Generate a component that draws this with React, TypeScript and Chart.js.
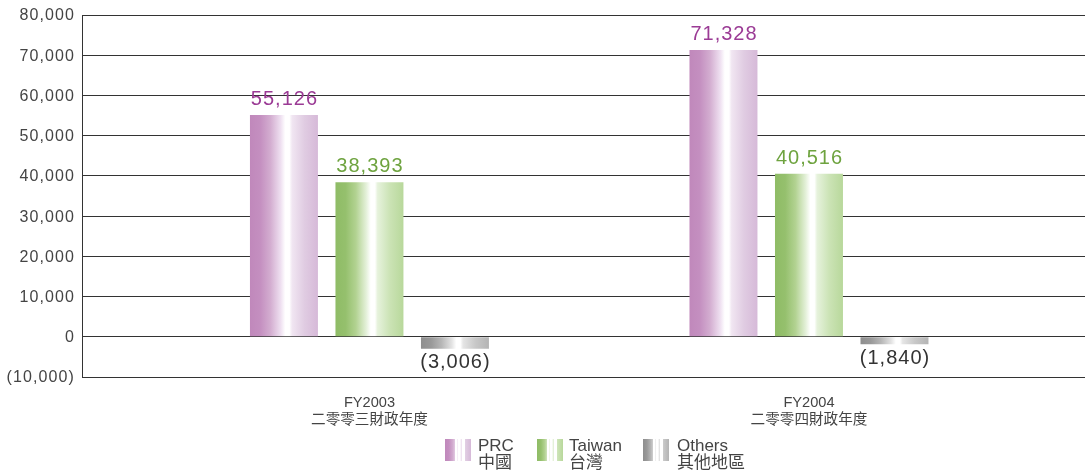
import React, { useEffect, useRef } from 'react';
import { Chart, registerables } from 'chart.js';

Chart.register(...registerables);

// ---- data ----
const categories: string[][] = [
  ['FY2003', '二零零三財政年度'],
  ['FY2004', '二零零四財政年度'],
];
const seriesNames: string[][] = [
  ['PRC', '中國'],
  ['Taiwan', '台灣'],
  ['Others', '其他地區'],
];
const prcValues = [55126, 71328];
const taiwanValues = [38393, 40516];
const othersValues = [-3006, -1840];
const yMin = -10000;
const yMax = 80000;
const yStep = 10000;

// ---- styles ----
const FONT = '"Liberation Sans", Arial, "Noto Sans CJK TC", sans-serif';
const labelColors = ['#9b3b95', '#6ea33f', '#333333'];
type Stops = [number, string][];
const gradStops: Stops[] = [
  [[0, '#c088bb'], [0.15, '#c48fc0'], [0.3, '#d3add0'], [0.45, '#eedff0'], [0.52, '#ffffff'], [0.58, '#ffffff'], [0.62, '#f1e6f2'], [0.8, '#e0cce2'], [1, '#d6b9d8']],
  [[0, '#8fbc66'], [0.15, '#95c06d'], [0.3, '#b2d291'], [0.45, '#e3f0d8'], [0.52, '#ffffff'], [0.58, '#ffffff'], [0.62, '#e6f2dc'], [0.8, '#cbe3b5'], [1, '#b8d89b']],
  [[0, '#8e8e8e'], [0.15, '#999999'], [0.3, '#b6b6b6'], [0.45, '#e2e2e2'], [0.52, '#ffffff'], [0.58, '#ffffff'], [0.62, '#e5e5e5'], [0.8, '#c8c8c8'], [1, '#b4b4b4']],
];

function makeGrad(ctx: CanvasRenderingContext2D, x0: number, x1: number, stops: Stops) {
  const g = ctx.createLinearGradient(x0, 0, x1, 0);
  stops.forEach(([o, c]) => g.addColorStop(o, c));
  return g;
}

function fmt(v: number) {
  const s = Math.abs(v).toLocaleString('en-US');
  return v < 0 ? `(${s})` : s;
}

const seriesValues = [prcValues, taiwanValues, othersValues];

const overlayPlugin = {
  id: 'overlay',
  afterDatasetsDraw(chart: any) {
    const ctx: CanvasRenderingContext2D = chart.ctx;
    ctx.save();
    chart.data.datasets.forEach((ds: any, di: number) => {
      const meta = chart.getDatasetMeta(di);
      meta.data.forEach((el: any, i: number) => {
        const v = seriesValues[di][i];
        ctx.fillStyle = labelColors[di];
        ctx.font = `20px ${FONT}`;
        (ctx as any).letterSpacing = '1px';
        ctx.textAlign = 'center';
        if (v >= 0) {
          ctx.textBaseline = 'alphabetic';
          ctx.fillText(fmt(v), el.x + 0.5, el.y - 10);
        } else {
          ctx.textBaseline = 'top';
          ctx.fillText(fmt(v), el.x + 0.5, el.y + 4);
        }
      });
    });
    ctx.restore();
  },
  afterDraw(chart: any) {
    const ctx: CanvasRenderingContext2D = chart.ctx;
    const ys = chart.scales.y;
    ctx.save();
    // y tick labels
    ctx.fillStyle = '#444444';
    ctx.font = `16px ${FONT}`;
    (ctx as any).letterSpacing = '1.1px';
    ctx.textAlign = 'right';
    ctx.textBaseline = 'middle';
    ys.ticks.forEach((t: any) => {
      const y = ys.getPixelForValue(t.value);
      ctx.fillText(fmt(t.value), ys.right - 7, y + 1);
    });
    // legend
    (ctx as any).letterSpacing = '0px';
    const boxX = [445, 537, 643];
    const textX = [478, 569, 677];
    const boxY = 439;
    const bw = 26;
    const bh = 22;
    seriesNames.forEach((name, i) => {
      const x = boxX[i];
      ctx.fillStyle = makeGrad(ctx, x, x + bw, gradStops[i]);
      ctx.fillRect(x, boxY, bw, bh);
      ctx.fillStyle = '#ffffff';
      ctx.fillRect(x + 10, boxY, 2, bh);
      ctx.fillRect(x + 17, boxY, 3, bh);
      ctx.fillStyle = '#444444';
      ctx.font = `17px ${FONT}`;
      ctx.textAlign = 'left';
      ctx.textBaseline = 'middle';
      ctx.fillText(name[0], textX[i], 446);
      ctx.fillText(name[1], textX[i], 463);
    });
    ctx.restore();
  },
};

export default function App() {
  const ref = useRef<HTMLCanvasElement | null>(null);
  useEffect(() => {
    if (!ref.current) return;
    const mk = (label: string[], vals: number[], i: number) => ({
      label: label[0],
      data: vals.map((v, k) => ({ x: k, y: v })),
      backgroundColor: (c: any) => {
        const el = c.element;
        if (!el || !el.width || !isFinite(el.x)) return gradStops[i][0][1];
        return makeGrad(c.chart.ctx, el.x - el.width / 2, el.x + el.width / 2, gradStops[i]);
      },
      borderWidth: 0,
      categoryPercentage: 0.5836,
      barPercentage: 0.795,
    });
    const chart = new Chart(ref.current, {
      type: 'bar',
      data: {
        datasets: [
          mk(seriesNames[0], prcValues, 0),
          mk(seriesNames[1], taiwanValues, 1),
          mk(seriesNames[2], othersValues, 2),
        ],
      },
      options: {
        responsive: false,
        animation: false,
        layout: { padding: { top: 15, right: 2, left: 0, bottom: 0 } },
        plugins: { legend: { display: false }, tooltip: { enabled: false } },
        scales: {
          x: {
            type: 'linear',
            min: -0.654,
            max: 1.628,
            offset: false,
            afterBuildTicks: (scale: any) => {
              scale.ticks = categories.map((_, k) => ({ value: k }));
            },
            afterFit: (scale: any) => {
              scale.height = 94;
            },
            grid: { display: false, drawTicks: false },
            border: { display: false },
            ticks: {
              autoSkip: false,
              maxRotation: 0,
              padding: 17,
              color: '#444444',
              font: { family: FONT, size: 14.6, lineHeight: 1.18 },
              callback: (v: any) => categories[v] || '',
            },
          },
          y: {
            min: yMin,
            max: yMax,
            afterFit: (scale: any) => {
              scale.width = 82;
            },
            ticks: { stepSize: yStep, display: false },
            grid: { color: '#333333', lineWidth: 1, drawTicks: false, tickLength: 0 },
            border: { display: true, color: '#333333', width: 1 },
          },
        },
      },
      plugins: [overlayPlugin],
    } as any);
    chart.update();
    return () => chart.destroy();
  }, []);
  return (
    <div style={{ position: 'absolute', left: 0, top: 0, width: 1087, height: 471, background: '#ffffff' }}>
      <canvas ref={ref} width={1087} height={471} style={{ display: 'block' }} />
    </div>
  );
}
